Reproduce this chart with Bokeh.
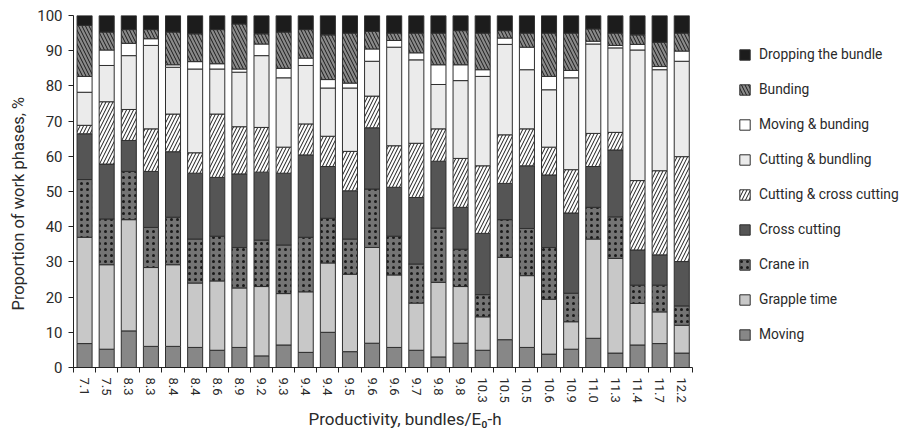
from bokeh.plotting import figure
from bokeh.models import ColumnDataSource, FixedTicker, Legend, LegendItem, Title
from bokeh.transform import stack
from bokeh.embed import file_html
from bokeh.resources import INLINE

# ---- data ----
productivity = ["7.1", "7.5", "8.3", "8.3", "8.4", "8.4", "8.6", "8.9", "9.2", "9.3",
                "9.4", "9.4", "9.5", "9.6", "9.6", "9.7", "9.8", "9.8", "10.3", "10.5",
                "10.5", "10.6", "10.9", "11.0", "11.3", "11.4", "11.7", "12.2"]

moving = [6.8, 5.2, 10.4, 6.0, 6.0, 5.7, 4.9, 5.7, 3.3, 6.4, 4.3, 10.0, 4.5, 6.9,
          5.7, 4.9, 3.0, 6.9, 4.9, 7.9, 5.7, 3.8, 5.2, 8.3, 4.1, 6.4, 6.8, 4.1]
grapple_time = [30.2, 24.0, 31.6, 22.4, 23.2, 18.3, 19.7, 16.9, 19.7, 14.6, 17.2, 19.7, 22.0, 27.2,
                20.6, 13.4, 21.2, 16.1, 9.5, 23.4, 20.4, 15.6, 7.8, 28.2, 26.9, 11.8, 9.0, 7.9]
crane_in = [16.4, 13.0, 13.7, 11.4, 13.5, 12.5, 12.7, 11.5, 13.2, 13.8, 15.5, 12.7, 10.0, 16.6,
            11.0, 11.1, 15.4, 10.6, 6.3, 10.7, 13.4, 14.7, 8.1, 9.0, 11.8, 5.2, 7.6, 5.5]
cross_cutting = [13.0, 15.6, 8.8, 15.9, 18.6, 18.7, 16.7, 20.9, 19.3, 20.4, 23.4, 14.7, 13.7, 17.4,
                 13.9, 18.9, 19.0, 11.9, 17.4, 10.3, 17.8, 20.6, 22.8, 11.6, 19.0, 10.0, 8.6, 12.6]
cutting_cross = [2.4, 17.7, 8.8, 12.1, 10.7, 5.8, 18.0, 13.4, 12.7, 7.4, 8.8, 8.6, 11.2, 9.0,
                 11.8, 15.4, 9.2, 13.9, 19.2, 13.8, 10.5, 7.9, 12.3, 9.4, 5.0, 19.7, 23.9, 29.8]
cutting_bundling = [9.4, 10.3, 15.3, 23.7, 13.3, 23.8, 12.8, 15.5, 20.4, 19.7, 16.6, 13.7, 18.0, 9.9,
                    28.0, 23.7, 12.6, 22.1, 25.4, 25.7, 16.8, 16.3, 26.1, 25.4, 24.0, 37.1, 28.7, 27.1]
moving_bunding = [4.5, 4.4, 3.5, 1.9, 0.7, 2.1, 1.5, 0.9, 3.3, 2.7, 2.1, 2.4, 1.4, 3.5,
                  1.9, 2.0, 5.6, 4.5, 1.9, 1.8, 6.4, 3.8, 2.1, 0.8, 0.7, 1.6, 0.9, 2.9]
bunding = [14.5, 5.1, 3.9, 2.6, 9.3, 7.9, 9.7, 12.8, 2.9, 10.3, 8.1, 12.7, 14.2, 5.0,
           2.1, 5.6, 9.0, 9.7, 10.4, 2.1, 4.0, 12.3, 10.6, 3.5, 3.5, 2.7, 6.9, 5.1]
dropping = [2.8, 4.7, 4.0, 4.0, 4.7, 5.2, 4.0, 2.4, 5.2, 4.7, 4.0, 5.5, 5.0, 4.5,
            5.0, 5.0, 5.0, 4.3, 5.0, 4.3, 5.0, 5.0, 5.0, 3.8, 5.0, 5.5, 7.6, 5.0]

series_keys = ["moving", "grapple", "crane", "cross", "cutcross", "cutbund", "movbund", "bunding", "dropping"]
series_names = ["Moving", "Grapple time", "Crane in", "Cross cutting", "Cutting & cross cutting",
                "Cutting & bundling", "Moving & bunding", "Bunding", "Dropping the bundle"]
series_values = [moving, grapple_time, crane_in, cross_cutting, cutting_cross,
                 cutting_bundling, moving_bunding, bunding, dropping]
y_ticks = [0, 10, 20, 30, 40, 50, 60, 70, 80, 90, 100]

# ---- styles ----
fills = ["#878787", "#c8c8c8", "#747474", "#555555", "#ffffff", "#ebebeb", "#ffffff", "#8a8a8a", "#1c1c1c"]
hatches = [None, None, ".", None, "/", None, None, "\\", None]
hscale = [None, None, 6, None, 7, None, None, 7, None]

FONT = "Roboto"
TXT = "#2a2a2a"

n = len(productivity)
xs = list(range(1, n + 1))
data = {"x": xs}
for k, v in zip(series_keys, series_values):
    data[k] = v
src = ColumnDataSource(data)

# frame extends to the right edge so the legend can sit inside it; axis is bounded to the bars
legend_room = 9.39
p = figure(width=900, height=431, output_backend="svg", toolbar_location=None,
           x_range=(0.5, n + 0.5 + legend_room), y_range=(0, 100),
           min_border_left=72, min_border_right=0, min_border_top=15, min_border_bottom=64)

renderers = []
for i, k in enumerate(series_keys):
    kw = dict(x="x", width=0.68, bottom=stack(*series_keys[:i]), top=stack(*series_keys[:i + 1]),
              source=src, fill_color=fills[i], line_color="#2e2e2e", line_width=1)
    if hatches[i]:
        kw.update(hatch_pattern=hatches[i], hatch_color="#1a1a1a", hatch_scale=hscale[i],
                  hatch_weight=1)
    r = p.vbar(**kw)
    renderers.append(r)

items = [LegendItem(label=series_names[i], renderers=[renderers[i]]) for i in reversed(range(len(series_keys)))]
legend = Legend(items=items, location=(665, 23), padding=0, margin=0, spacing=15,
                glyph_width=13, glyph_height=13, label_height=20, label_standoff=8,
                label_text_font=FONT, label_text_font_size="13.8px", label_text_color=TXT,
                border_line_color=None, background_fill_alpha=0)
p.add_layout(legend)

p.xgrid.visible = False
p.ygrid.visible = False
p.outline_line_color = None

xa = p.xaxis[0]
xa.bounds = (0.5, n + 0.5)
xa.ticker = FixedTicker(ticks=xs, minor_ticks=[i + 0.5 for i in range(0, n + 1)])
xa.major_label_overrides = {x: lab for x, lab in zip(xs, productivity)}
xa.major_label_orientation = "vertical"
xa.major_tick_line_color = None
xa.major_tick_out = 5
xa.major_tick_in = 0
xa.minor_tick_out = 5
xa.minor_tick_in = 0
xa.minor_tick_line_color = "#222222"
xa.major_label_standoff = 5
xa.major_label_text_font = FONT
xa.major_label_text_font_size = "13px"
xa.major_label_text_color = TXT
xa.axis_line_color = "#222222"

ya = p.yaxis[0]
ya.ticker = FixedTicker(ticks=y_ticks)
ya.minor_tick_line_color = None
ya.major_tick_out = 5
ya.major_tick_in = 0
ya.major_tick_line_color = "#222222"
ya.major_label_standoff = 6
ya.major_label_text_font = FONT
ya.major_label_text_font_size = "15px"
ya.major_label_text_color = TXT
ya.axis_line_color = "#222222"

xtitle = Title(text="Productivity, bundles/E\u2080-h", align="left", offset=235, standoff=3,
               text_font=FONT, text_font_size="17px", text_font_style="normal", text_color=TXT)
p.add_layout(xtitle, "below")
ytitle = Title(text="Proportion of work phases, %", align="left", offset=57, standoff=13,
               text_font=FONT, text_font_size="16.5px", text_font_style="normal", text_color=TXT)
p.add_layout(ytitle, "left")

open("out.html", "w").write(file_html(p, INLINE))
